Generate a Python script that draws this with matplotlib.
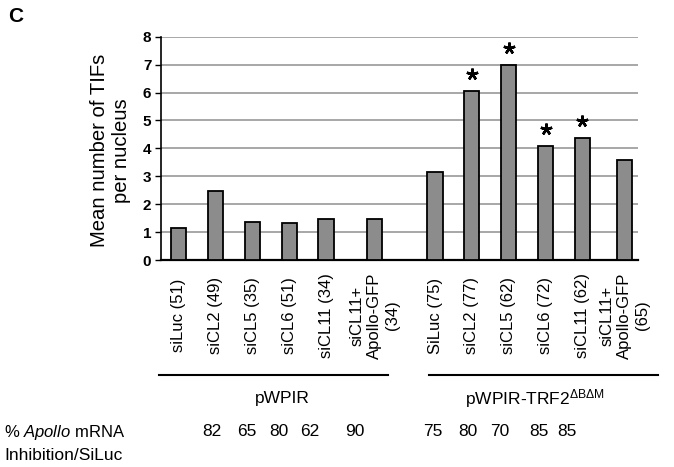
import matplotlib.pyplot as plt
import numpy as np

plt.rcParams['font.family'] = ['Liberation Sans', 'DejaVu Sans']
plt.rcParams['mathtext.fontset'] = 'custom'
plt.rcParams['mathtext.rm'] = 'Liberation Sans'
plt.rcParams['mathtext.it'] = 'Liberation Sans:italic'

# data
labels_wt = ['siLuc (51)', 'siCL2 (49)', 'siCL5 (35)', 'siCL6 (51)', 'siCL11 (34)',
             'siCL11+\nApollo-GFP\n(34)']
labels_mut = ['SiLuc (75)', 'siCL2 (77)', 'siCL5 (62)', 'siCL6 (72)', 'siCL11 (62)',
              'siCL11+\nApollo-GFP\n(65)']
tifs_wt = [1.15, 2.47, 1.37, 1.31, 1.47, 1.47]
tifs_mut = [3.16, 6.07, 6.98, 4.08, 4.38, 3.57]
signif_mut = [False, True, True, True, True, False]
mrna_wt = [82, 65, 80, 62, 90]
mrna_mut = [75, 80, 70, 85, 85]

# bar positions: two groups, the rescue bar sits a bit further out
pos_wt = np.arange(6, dtype=float)
pos_wt[-1] += 0.32
pos_mut = np.arange(6, dtype=float) + 6.96
pos_mut[-1] += 0.15

W, H = 674, 467
fig = plt.figure(figsize=(W / 100, H / 100), dpi=100)
ax = fig.add_axes([161 / W, 1 - 260 / H, 477 / W, 223.3 / H])

bar_kw = dict(width=0.41, color='#8c8c8c', edgecolor='black', linewidth=1.3, zorder=3)
ax.bar(pos_wt, tifs_wt, **bar_kw)
bars = ax.bar(pos_mut, tifs_mut, **bar_kw)

# significance asterisks
for b, s in zip(bars, signif_mut):
    if s:
        ax.plot(b.get_x() + b.get_width() / 2, b.get_height() + 0.6,
                marker=(5, 2, 0), markersize=8.5, markeredgewidth=1.8,
                color='black', zorder=4, clip_on=False)

ax.set_xlim(-0.48, 12.47)
ax.set_ylim(0, 8)
ax.set_yticks(range(9))
ax.yaxis.grid(True, color='#a0a0a0', linewidth=1.3, zorder=0)
ax.tick_params(axis='y', labelsize=11, length=4, width=1, pad=3)
for t in ax.get_yticklabels():
    t.set_fontweight('bold')
ax.spines['top'].set_visible(False)
ax.spines['right'].set_visible(False)
ax.spines['left'].set_linewidth(1.2)
ax.spines['bottom'].set_linewidth(1.6)

ax.set_xticks(np.concatenate([pos_wt, pos_mut]))
ax.set_xticklabels(labels_wt + labels_mut, rotation=90, fontsize=12,
                   va='center', ha='center', multialignment='center')
ax.tick_params(axis='x', length=0, pad=40)

ax.set_ylabel('Mean number of TIFs\nper nucleus', fontsize=14.6, linespacing=1.2,
              va='center')
ax.yaxis.set_label_coords(-0.105, 0.49)

# group brackets and names
line_y = 1 - 375 / H
fig.add_artist(plt.Line2D([159 / W, 388 / W], [line_y, line_y],
                          color='black', linewidth=1.5))
fig.add_artist(plt.Line2D([429 / W, 658 / W], [line_y, line_y],
                          color='black', linewidth=1.5))
fig.text(282 / W, 1 - 399 / H, 'pWPIR', ha='center', va='center', fontsize=12.5)
fig.text(535 / W, 1 - 399 / H, r'pWPIR-TRF2$^{\Delta\mathrm{B}\Delta\mathrm{M}}$',
         ha='center', va='center', fontsize=12.5)

# % Apollo mRNA inhibition row
fig.text(4 / W, 1 - 432 / H, r'% $\mathit{Apollo}$ mRNA', ha='left', va='center',
         fontsize=12)
fig.text(4 / W, 1 - 455 / H, 'Inhibition/SiLuc', ha='left', va='center', fontsize=12.5)
x_mrna = [212, 247, 279, 310, 355, 433, 468, 500, 539, 567]
for x, v in zip(x_mrna, mrna_wt + mrna_mut):
    fig.text(x / W, 1 - 432 / H, str(v), ha='center', va='center', fontsize=12.5)

fig.text(16 / W, 1 - 16 / H, 'C', ha='center', va='center', fontsize=15,
         fontweight='bold')

fig.savefig('out.png', dpi=100)
